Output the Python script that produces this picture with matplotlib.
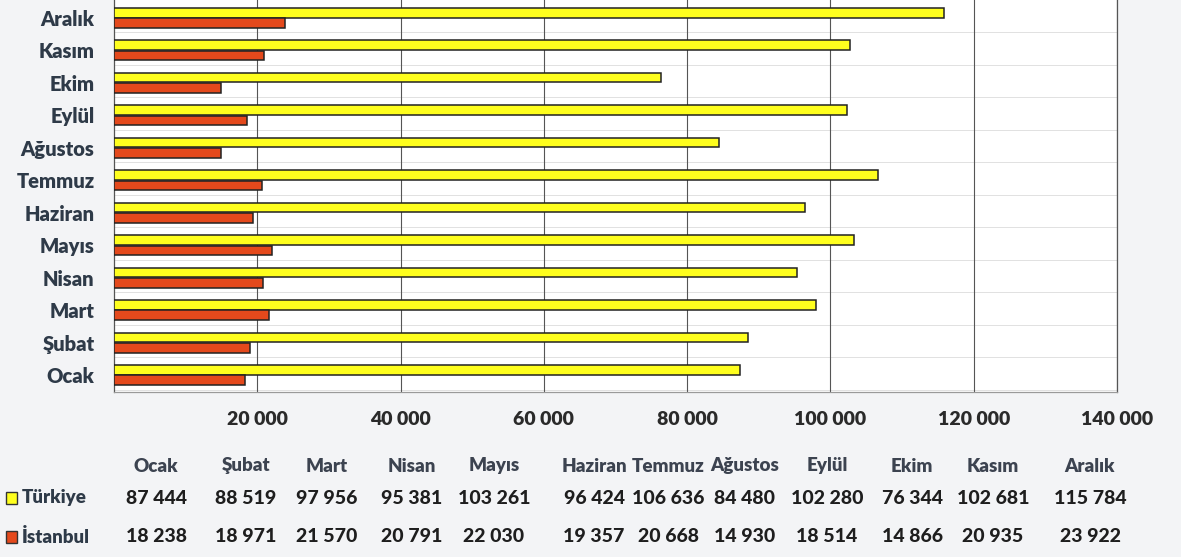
#!/usr/bin/env python3

""" Monthly totals for Türkiye and İstanbul, horizontal bars with a data table """

import matplotlib
matplotlib.use('Agg')
import matplotlib.pyplot as plt
from matplotlib.patches import Rectangle
import numpy as np

months = ['Ocak', 'Şubat', 'Mart', 'Nisan', 'Mayıs', 'Haziran',
          'Temmuz', 'Ağustos', 'Eylül', 'Ekim', 'Kasım', 'Aralık']
turkiye = [87444, 88519, 97956, 95381, 103261, 96424,
           106636, 84480, 102280, 76344, 102681, 115784]
istanbul = [18238, 18971, 21570, 20791, 22030, 19357,
            20668, 14930, 18514, 14866, 20935, 23922]
series = ['Türkiye', 'İstanbul']
xticks = [20000, 40000, 60000, 80000, 100000, 120000, 140000]

W, H = 1181, 557
YELLOW = '#ffff1e'
RED = '#e4491c'
TEXT = '#2e3a48'

plt.rcParams['font.family'] = ['Lato', 'DejaVu Sans']


def fmt(v):
    return f'{v:,}'.replace(',', ' ')


def px(x, y):
    """ pixel position -> figure fraction """
    return x / W, 1 - y / H


fig = plt.figure(figsize=(W / 100, H / 100), dpi=100)
fig.patch.set_facecolor('#f3f4f6')
ax = fig.add_axes([114 / W, (H - 392) / H, (1117 - 114) / W, 392 / H])
ax.set_facecolor('white')

y = np.arange(len(months))
h = 0.3
ax.barh(y + 0.16, turkiye, height=h, color=YELLOW,
        edgecolor='#222222', linewidth=1.1, zorder=3)
ax.barh(y - 0.16, istanbul, height=h, color=RED,
        edgecolor='#222222', linewidth=1.1, zorder=3)

# faint separators between month groups
for yy in y:
    ax.axhline(yy - 0.45, color='#dcdcdc', linewidth=0.6, zorder=1)

ax.set_xlim(0, 140000)
ax.set_ylim(-0.52, 11.55)
ax.set_xticks(xticks)
ax.set_xticklabels([fmt(v) for v in xticks])
ax.set_yticks(y)
ax.set_yticklabels(months)
ax.grid(axis='x', color='#555555', linewidth=0.8, zorder=2)
ax.tick_params(axis='x', length=0, pad=14, labelsize=14, labelcolor='#2a2a2a')
ax.tick_params(axis='y', length=0, pad=14, labelsize=14.5, labelcolor=TEXT)
for lab in ax.get_xticklabels() + ax.get_yticklabels():
    lab.set_fontweight('heavy')

ax.spines['top'].set_visible(False)
ax.spines['left'].set_color('#555555')
ax.spines['right'].set_color('#555555')
ax.spines['bottom'].set_color('#9a9a9a')
for s in ('left', 'right', 'bottom'):
    ax.spines[s].set_linewidth(0.9)

# data table below the chart
colX = [156, 246, 327, 412, 494, 594, 668, 745, 827, 912, 993, 1090]
rowY = {'head': 466, 'Türkiye': 498, 'İstanbul': 537}

for cx, m in zip(colX, months):
    fig.text(*px(cx, rowY['head']), m, ha='center', va='center',
             fontsize=13.5, fontweight='heavy', color='#3c4350')

for name, vals, col in zip(series, [turkiye, istanbul], [YELLOW, RED]):
    ry = rowY[name]
    fx, fy = px(6, ry + 6)
    fig.patches.append(Rectangle((fx, fy), 11 / W, 12 / H, transform=fig.transFigure,
                                 facecolor=col, edgecolor='#333333', linewidth=1.0))
    fig.text(*px(22, ry), name, ha='left', va='center',
             fontsize=13.5, fontweight='heavy', color=TEXT)
    for cx, v in zip(colX, vals):
        fig.text(*px(cx, ry), fmt(v), ha='center', va='center',
                 fontsize=14, fontweight='black', color='#1e1e1e')

fig.savefig('out.png', dpi=100, facecolor=fig.get_facecolor())
